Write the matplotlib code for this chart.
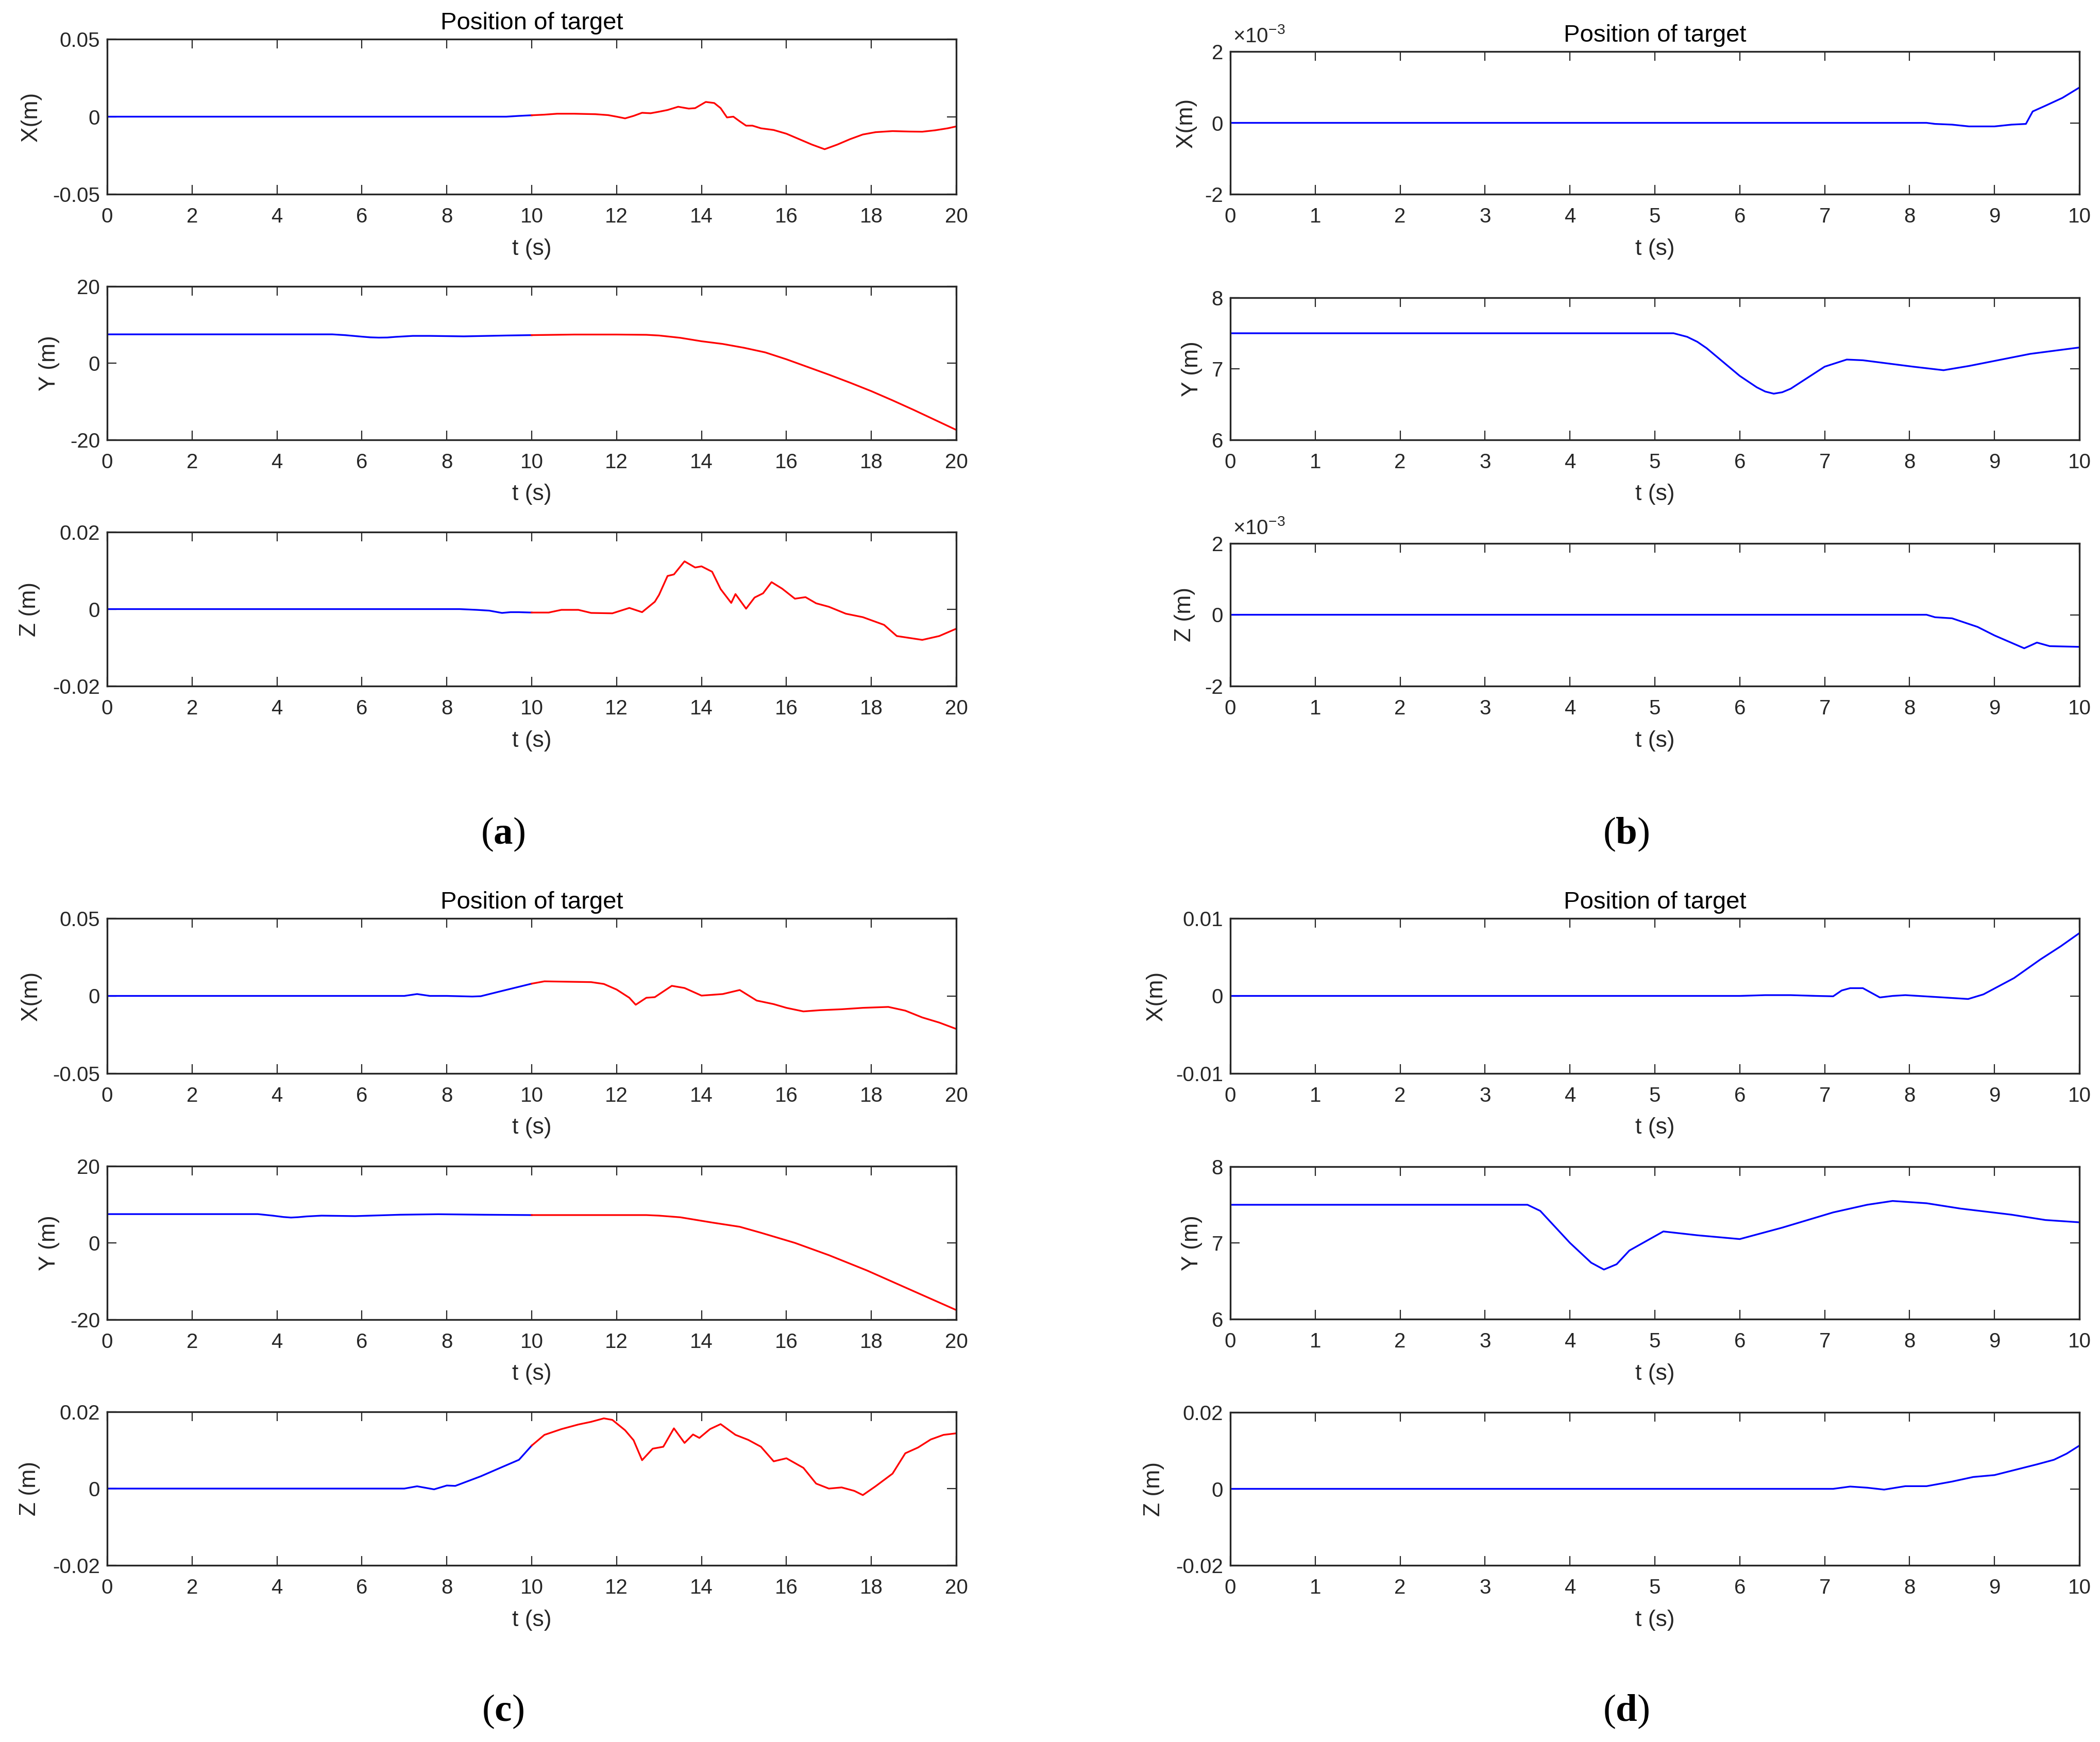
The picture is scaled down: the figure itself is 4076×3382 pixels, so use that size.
import matplotlib
matplotlib.use('Agg')
import matplotlib.pyplot as plt

plt.rcParams['font.family'] = ['Liberation Sans', 'DejaVu Sans']
plt.rcParams['mathtext.fontset'] = 'custom'
plt.rcParams['mathtext.rm'] = 'Liberation Sans'
plt.rcParams['mathtext.it'] = 'Liberation Sans:italic'
plt.rcParams['mathtext.bf'] = 'Liberation Serif:bold'

# ---------------- data ----------------
# (a)
a_x_blue_t = [0, 9.4, 9.7, 10.0]
a_x_blue_v = [0, 0, 0.0005, 0.0009]
a_x_red_t = [10, 10.3, 10.6, 11.0, 11.5, 11.8, 12.0, 12.2, 12.4, 12.6, 12.8, 13.0, 13.2, 13.45,
             13.7, 13.85, 14.1, 14.3, 14.45, 14.6, 14.75, 14.9, 15.05, 15.2, 15.4, 15.7, 16.0,
             16.3, 16.6, 16.9, 17.2, 17.5, 17.8, 18.1, 18.5, 18.9, 19.2, 19.5, 19.8, 20]
a_x_red_v = [0.0009, 0.0013, 0.0019, 0.0019, 0.0016, 0.0010, 0.0, -0.0011, 0.0005, 0.0025, 0.0022,
             0.0032, 0.0043, 0.0064, 0.0052, 0.0055, 0.0095, 0.0088, 0.0055, -0.0005, 0.0, -0.003,
             -0.0058, -0.0058, -0.0075, -0.0086, -0.011, -0.0145, -0.018, -0.021, -0.018, -0.0145,
             -0.0115, -0.0100, -0.0093, -0.0096, -0.0097, -0.0088, -0.0075, -0.0063]

a_y_blue_t = [0, 5.3, 5.6, 6.0, 6.2, 6.4, 6.6, 6.8, 7.2, 7.6, 8.4, 9.4, 10]
a_y_blue_v = [7.5, 7.5, 7.3, 6.9, 6.72, 6.65, 6.68, 6.85, 7.1, 7.1, 6.98, 7.2, 7.3]
a_y_red_t = [10, 11, 12, 12.7, 13.0, 13.5, 14.0, 14.5, 15.0, 15.5, 16.0, 16.5, 17.0, 17.5,
             18.0, 18.5, 19.0, 19.5, 20]
a_y_red_v = [7.3, 7.45, 7.45, 7.38, 7.2, 6.6, 5.7, 5.0, 4.0, 2.8, 1.0, -1.0, -3.0, -5.1,
             -7.3, -9.7, -12.2, -14.8, -17.4]

a_z_blue_t = [0, 8.3, 8.7, 9.0, 9.3, 9.5, 9.7, 10]
a_z_blue_v = [0, 0, -0.0002, -0.0004, -0.001, -0.0008, -0.0008, -0.0009]
a_z_red_t = [10, 10.4, 10.7, 11.1, 11.4, 11.9, 12.3, 12.6, 12.9, 13.0, 13.2, 13.35, 13.6, 13.85,
             14.0, 14.25, 14.45, 14.7, 14.8, 15.05, 15.25, 15.45, 15.65, 15.9, 16.2, 16.45, 16.7,
             17.0, 17.4, 17.8, 18.3, 18.6, 18.9, 19.2, 19.6, 20]
a_z_red_v = [-0.0009, -0.0009, -0.0002, -0.0002, -0.001, -0.0011, 0.0003, -0.0008, 0.0019, 0.0037,
             0.0086, 0.009, 0.0124, 0.0108, 0.0111, 0.0097, 0.0052, 0.0016, 0.0039, 0.0001, 0.003,
             0.0041, 0.007, 0.0053, 0.0027, 0.0031, 0.0015, 0.0006, -0.0012, -0.0021, -0.0041,
             -0.007, -0.0075, -0.008, -0.007, -0.0051]

# (b)
b_x_t = [0, 8.2, 8.3, 8.5, 8.7, 9.0, 9.2, 9.37, 9.45, 9.6, 9.8, 10]
b_x_v = [0, 0, -0.03e-3, -0.05e-3, -0.1e-3, -0.1e-3, -0.05e-3, -0.03e-3, 0.32e-3, 0.48e-3,
         0.7e-3, 0.99e-3]
b_y_t = [0, 5.22, 5.38, 5.5, 5.61, 6.0, 6.2, 6.3, 6.4, 6.5, 6.6, 7.0, 7.26, 7.45, 8.04, 8.4, 8.7,
         9.42, 10]
b_y_v = [7.5, 7.5, 7.45, 7.38, 7.29, 6.9, 6.74, 6.68, 6.65, 6.67, 6.72, 7.03, 7.13, 7.12, 7.03,
         6.98, 7.04, 7.21, 7.3]
b_z_t = [0, 8.2, 8.3, 8.5, 8.8, 9.0, 9.35, 9.5, 9.65, 10]
b_z_v = [0, 0, -0.07e-3, -0.1e-3, -0.34e-3, -0.58e-3, -0.94e-3, -0.78e-3, -0.88e-3, -0.9e-3]

# (c)
c_x_blue_t = [0, 7.0, 7.3, 7.6, 8.0, 8.6, 8.8, 9.3, 10.0]
c_x_blue_v = [0, 0, 0.0012, 0.0, 0.0, -0.0004, -0.0002, 0.0032, 0.0079]
c_x_red_t = [10.0, 10.3, 11.4, 11.7, 12.0, 12.3, 12.45, 12.7, 12.9, 13.3, 13.6, 14.0, 14.5, 14.9,
             15.3, 15.7, 16.0, 16.4, 16.8, 17.3, 17.8, 18.4, 18.8, 19.2, 19.6, 20]
c_x_red_v = [0.0079, 0.0094, 0.0089, 0.0077, 0.0041, -0.0012, -0.0057, -0.0012, -0.0008, 0.0065,
             0.0051, 0.0002, 0.0012, 0.0038, -0.003, -0.0053, -0.0077, -0.01, -0.0092, -0.0086,
             -0.0077, -0.0071, -0.0095, -0.0139, -0.0172, -0.0213]

c_y_blue_t = [0, 3.55, 3.9, 4.15, 4.33, 4.5, 4.7, 5.05, 5.84, 6.9, 7.8, 8.87, 10]
c_y_blue_v = [7.5, 7.5, 7.1, 6.75, 6.6, 6.7, 6.9, 7.1, 6.98, 7.34, 7.47, 7.34, 7.25]
c_y_red_t = [10, 11.2, 12.7, 13.0, 13.5, 14.25, 14.9, 15.4, 16.2, 17, 17.9, 19, 20]
c_y_red_v = [7.25, 7.25, 7.25, 7.1, 6.67, 5.3, 4.2, 2.64, 0, -3.2, -7.2, -12.6, -17.5]

c_z_blue_t = [0, 7.0, 7.3, 7.7, 8.0, 8.2, 8.8, 9.3, 9.7, 10.0]
c_z_blue_v = [0, 0, 0.0006, -0.0002, 0.0008, 0.0007, 0.0032, 0.0056, 0.0075, 0.0112]
c_z_red_t = [10.0, 10.3, 10.7, 11.1, 11.4, 11.7, 11.9, 12.2, 12.4, 12.6, 12.85, 13.1, 13.35, 13.6,
             13.8, 13.95, 14.2, 14.45, 14.8, 15.1, 15.4, 15.7, 16.0, 16.4, 16.7, 17.0, 17.3, 17.6,
             17.8, 18.1, 18.5, 18.8, 19.1, 19.4, 19.7, 20]
c_z_red_v = [0.0112, 0.014, 0.0155, 0.0167, 0.0174, 0.0183, 0.0179, 0.0152, 0.0126, 0.0074, 0.0104,
             0.0109, 0.0157, 0.0119, 0.0141, 0.0132, 0.0155, 0.0168, 0.014, 0.0127, 0.0109, 0.0071,
             0.0079, 0.0054, 0.0013, 0.0, 0.0003, -0.0006, -0.0017, 0.0006, 0.0039, 0.0092, 0.0107,
             0.0128, 0.014, 0.0144]

# (d)
d_x_t = [0, 6.0, 6.3, 6.6, 6.9, 7.1, 7.2, 7.3, 7.45, 7.55, 7.65, 7.8, 7.95, 8.1, 8.4, 8.69, 8.87,
         9.23, 9.54, 9.78, 10]
d_x_v = [0, 0, 0.0001, 0.0001, 0.0, -0.00005, 0.0007, 0.001, 0.001, 0.0004, -0.0002, 0.0, 0.0001,
         0.0, -0.0002, -0.0004, 0.0002, 0.0023, 0.0047, 0.0064, 0.0081]
d_y_t = [0, 3.5, 3.65, 4.0, 4.25, 4.4, 4.55, 4.7, 5.1, 5.5, 6.0, 6.5, 7.1, 7.5, 7.8, 8.2, 8.6, 9.2,
         9.6, 10]
d_y_v = [7.5, 7.5, 7.42, 7.0, 6.74, 6.65, 6.72, 6.9, 7.15, 7.1, 7.05, 7.2, 7.4, 7.5, 7.55, 7.52,
         7.45, 7.37, 7.3, 7.27]
d_z_t = [0, 7.1, 7.3, 7.5, 7.7, 7.95, 8.2, 8.5, 8.75, 9.0, 9.5, 9.7, 9.85, 10]
d_z_v = [0, 0, 0.0006, 0.0003, -0.0002, 0.0007, 0.0007, 0.0019, 0.0031, 0.0036, 0.0064, 0.0076,
         0.0092, 0.0113]

ticks_20 = [0, 2, 4, 6, 8, 10, 12, 14, 16, 18, 20]
ticks_10 = [0, 1, 2, 3, 4, 5, 6, 7, 8, 9, 10]

# ---------------- figure ----------------
W, H, DPI = 4076, 3382, 200
fig = plt.figure(figsize=(W / DPI, H / DPI), dpi=DPI)
GRAY = (0.15, 0.15, 0.15)
BLUE = (0, 0, 1)
RED = (1, 0, 0)
LW = 1.2
LEFT = (208, 1856)
RIGHT = (2388, 4036)


def make_ax(cols, top, bottom, xlim, xticks, ylim, yticks, yticklabels, ylabel, ylabel_x,
            title=False, exponent=False):
    l, r = cols
    ax = fig.add_axes([l / W, 1 - bottom / H, (r - l) / W, (bottom - top) / H])
    ax.set_xlim(*xlim)
    ax.set_ylim(*ylim)
    ax.set_xticks(xticks)
    ax.set_xticklabels([str(v) for v in xticks])
    ax.set_yticks(yticks)
    ax.set_yticklabels(yticklabels)
    ax.tick_params(direction='in', length=6.5, width=0.8, top=True, right=True,
                   labelsize=14.5, colors=GRAY)
    ax.tick_params(axis='x', pad=9)
    ax.tick_params(axis='y', pad=5)
    for s in ax.spines.values():
        s.set_linewidth(1.2)
        s.set_color(GRAY)
    fig.text(ylabel_x / W, 1 - (top + bottom) / 2 / H, ylabel, rotation=90, ha='center',
             va='center', fontsize=16, color=GRAY)
    fig.text((l + r) / 2 / W, 1 - (bottom + 106) / H, 't (s)', ha='center', va='center',
             fontsize=16, color=GRAY)
    if title:
        ax.set_title('Position of target', fontsize=17, pad=7, color='black')
    if exponent:
        ax.text(0.003, 1.035, r'$\mathregular{\times10^{-3}}$', transform=ax.transAxes,
                ha='left', va='bottom', fontsize=14.5, color=GRAY)
    return ax


# (a)
ax = make_ax(LEFT, 76, 377, (0, 20), ticks_20, (-0.05, 0.05), [-0.05, 0, 0.05],
             ['-0.05', '0', '0.05'], 'X(m)', 60, title=True)
ax.plot(a_x_blue_t, a_x_blue_v, color=BLUE, lw=LW)
ax.plot(a_x_red_t, a_x_red_v, color=RED, lw=LW)

ax = make_ax(LEFT, 556, 854, (0, 20), ticks_20, (-20, 20), [-20, 0, 20],
             ['-20', '0', '20'], 'Y (m)', 96)
ax.plot(a_y_blue_t, a_y_blue_v, color=BLUE, lw=LW)
ax.plot(a_y_red_t, a_y_red_v, color=RED, lw=LW)

ax = make_ax(LEFT, 1033, 1332, (0, 20), ticks_20, (-0.02, 0.02), [-0.02, 0, 0.02],
             ['-0.02', '0', '0.02'], 'Z (m)', 57)
ax.plot(a_z_blue_t, a_z_blue_v, color=BLUE, lw=LW)
ax.plot(a_z_red_t, a_z_red_v, color=RED, lw=LW)

# (b)
ax = make_ax(RIGHT, 100, 377, (0, 10), ticks_10, (-2e-3, 2e-3), [-2e-3, 0, 2e-3],
             ['-2', '0', '2'], 'X(m)', 2303, title=True, exponent=True)
ax.plot(b_x_t, b_x_v, color=BLUE, lw=LW)

ax = make_ax(RIGHT, 578, 854, (0, 10), ticks_10, (6, 8), [6, 7, 8],
             ['6', '7', '8'], 'Y (m)', 2314)
ax.plot(b_y_t, b_y_v, color=BLUE, lw=LW)

ax = make_ax(RIGHT, 1055, 1332, (0, 10), ticks_10, (-2e-3, 2e-3), [-2e-3, 0, 2e-3],
             ['-2', '0', '2'], 'Z (m)', 2300, exponent=True)
ax.plot(b_z_t, b_z_v, color=BLUE, lw=LW)

# (c)
ax = make_ax(LEFT, 1783, 2084, (0, 20), ticks_20, (-0.05, 0.05), [-0.05, 0, 0.05],
             ['-0.05', '0', '0.05'], 'X(m)', 60, title=True)
ax.plot(c_x_blue_t, c_x_blue_v, color=BLUE, lw=LW)
ax.plot(c_x_red_t, c_x_red_v, color=RED, lw=LW)

ax = make_ax(LEFT, 2264, 2562, (0, 20), ticks_20, (-20, 20), [-20, 0, 20],
             ['-20', '0', '20'], 'Y (m)', 96)
ax.plot(c_y_blue_t, c_y_blue_v, color=BLUE, lw=LW)
ax.plot(c_y_red_t, c_y_red_v, color=RED, lw=LW)

ax = make_ax(LEFT, 2741, 3039, (0, 20), ticks_20, (-0.02, 0.02), [-0.02, 0, 0.02],
             ['-0.02', '0', '0.02'], 'Z (m)', 57)
ax.plot(c_z_blue_t, c_z_blue_v, color=BLUE, lw=LW)
ax.plot(c_z_red_t, c_z_red_v, color=RED, lw=LW)

# (d)
ax = make_ax(RIGHT, 1783, 2084, (0, 10), ticks_10, (-0.01, 0.01), [-0.01, 0, 0.01],
             ['-0.01', '0', '0.01'], 'X(m)', 2245, title=True)
ax.plot(d_x_t, d_x_v, color=BLUE, lw=LW)

ax = make_ax(RIGHT, 2265, 2561, (0, 10), ticks_10, (6, 8), [6, 7, 8],
             ['6', '7', '8'], 'Y (m)', 2314)
ax.plot(d_y_t, d_y_v, color=BLUE, lw=LW)

ax = make_ax(RIGHT, 2742, 3039, (0, 10), ticks_10, (-0.02, 0.02), [-0.02, 0, 0.02],
             ['-0.02', '0', '0.02'], 'Z (m)', 2240)
ax.plot(d_z_t, d_z_v, color=BLUE, lw=LW)

# captions
for lab, x, y in [('a', 976, 1620), ('b', 3156, 1620), ('c', 976, 3323), ('d', 3156, 3323)]:
    fig.text(x / W, 1 - y / H, r'($\mathbf{' + lab + r'}$)', family='Liberation Serif',
             fontsize=27, ha='center', va='center', color='black')

fig.savefig('out.png', dpi=DPI, facecolor='white')
